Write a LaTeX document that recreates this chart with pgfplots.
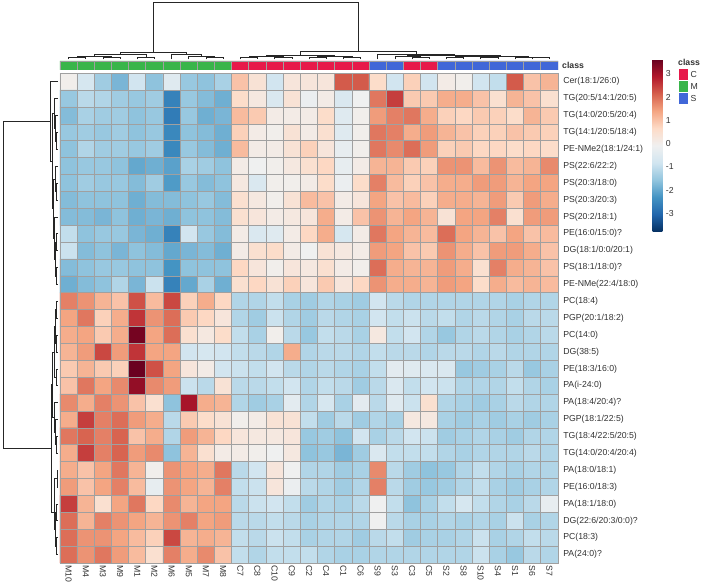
\documentclass[border=0pt]{standalone}
\usepackage{pgfplots}
\pgfplotsset{compat=1.18}
\usepackage{fontspec}
\setmainfont{Liberation Sans}
\definecolor{cC}{RGB}{231,25,74}
\definecolor{cM}{RGB}{57,181,74}
\definecolor{cS}{RGB}{65,103,216}
\definecolor{gridc}{RGB}{160,160,160}
\definecolor{txt}{RGB}{50,50,50}
\newcommand{\lf}{\fontsize{8.7}{10}\selectfont}
\begin{document}
\begin{tikzpicture}
% ---------------- heatmap ----------------
\begin{axis}[name=hm,
 at={(0pt,0pt)}, anchor=south west, scale only axis, width=498pt, height=489.7pt,
 xmin=-0.5, xmax=28.5, ymin=-0.5, ymax=28.5, y dir=reverse,
 colormap={rdbu}{rgb255=(5,48,97) rgb255=(33,102,172) rgb255=(67,147,195) rgb255=(146,197,222) rgb255=(209,229,240) rgb255=(240,240,240) rgb255=(253,219,199) rgb255=(244,165,130) rgb255=(214,96,77) rgb255=(178,24,43) rgb255=(103,0,31)},
 point meta min=-3.8, point meta max=3.63,
 xtick={0,...,28}, ytick={0,...,28},
 xticklabels={M10,M4,M3,M9,M1,M2,M6,M5,M7,M8,C7,C8,C10,C9,C2,C4,C1,C6,S9,S3,C3,C5,S2,S8,S10,S4,S1,S6,S7},
 yticklabels={Cer(18:1/26:0),TG(20:5/14:1/20:5),TG(14:0/20:5/20:4),TG(14:1/20:5/18:4),PE-NMe2(18:1/24:1),PS(22:6/22:2),PS(20:3/18:0),PS(20:3/20:3),PS(20:2/18:1),PE(16:0/15:0)?,DG(18:1/0:0/20:1),PS(18:1/18:0)?,PE-NMe(22:4/18:0),PC(18:4),PGP(20:1/18:2),PC(14:0),DG(38:5),PE(18:3/16:0),PA(i-24:0),PA(18:4/20:4)?,PGP(18:1/22:5),TG(18:4/22:5/20:5),TG(14:0/20:4/20:4),PA(18:0/18:1),PE(16:0/18:3),PA(18:1/18:0),DG(22:6/20:3/0:0)?,PC(18:3),PA(24:0)?},
 yticklabel pos=right,
 major tick length=0pt, minor tick length=0pt,
 minor xtick={0.5,1.5,...,27.5}, minor ytick={0.5,1.5,...,27.5},
 xminorgrids, yminorgrids, minor grid style={gridc, line width=0.8pt},
 axis line style={gridc, line width=0.8pt},
 axis on top,
 xticklabel style={rotate=-90, anchor=west, inner sep=2pt, font=\lf, text=txt},
 yticklabel style={anchor=west, xshift=1.8pt, font=\lf, text=txt},
 colorbar,
 colorbar style={at={(parent axis.north east)}, anchor=north west, xshift=86.2pt, yshift=14pt,
   scale only axis, width=9.6pt, height=172.5pt, y dir=normal,
   axis line style={draw=none}, major tick length=0pt, minor tick length=0pt,
   xtick=\empty, ytick={-3,-2,-1,0,1,2,3}, yticklabels={-3,-2,-1,0,1,2,3},
   minor xtick={}, minor ytick={}, xminorgrids=false, yminorgrids=false,
   yticklabel pos=right,
   yticklabel style={anchor=west, xshift=0pt, font=\lf, text=txt}}
]
\addplot[matrix plot*, mesh/cols=29, point meta=explicit] table[header=false, row sep=\\,
  x expr={\coordindex-29*floor((\coordindex+0.5)/29)}, y expr={floor((\coordindex+0.5)/29)}, meta index=0] {
0\\ -0.7\\ -1.4\\ -1.8\\ -0.8\\ -1.6\\ -0.5\\ -1.5\\ -1.6\\ -1.3\\ 1.0\\ 0.4\\ -0.8\\ 0.3\\ 0.3\\ 0.3\\ 2.2\\ 2.2\\ 0.6\\ -0.8\\ 0.8\\ -0.8\\ 0.1\\ 0.0\\ -0.8\\ -1.0\\ 2.2\\ 1.0\\ 1.2\\
-1.5\\ -1.1\\ -1.2\\ -1.4\\ -1.5\\ -1.4\\ -2.6\\ -1.5\\ -1.7\\ -1.9\\ 0.6\\ 0.2\\ -0.6\\ 0.4\\ -0.2\\ 0.1\\ -0.6\\ -0.1\\ 1.9\\ 2.5\\ 0.9\\ 0.9\\ 1.3\\ 1.3\\ 1.0\\ 0.5\\ 1.2\\ 1.0\\ 0.5\\
-1.7\\ -1.3\\ -1.4\\ -1.4\\ -1.6\\ -1.5\\ -2.7\\ -1.5\\ -1.9\\ -1.8\\ 1.1\\ 0.9\\ 0.1\\ 0.1\\ 0.1\\ 0.6\\ -0.5\\ 0.0\\ 1.5\\ 1.8\\ 1.9\\ 1.3\\ 0.8\\ 0.7\\ 0.9\\ 0.8\\ 0.6\\ 1.2\\ 0.9\\
-1.5\\ -1.4\\ -1.5\\ -1.4\\ -1.6\\ -1.5\\ -2.5\\ -1.6\\ -1.7\\ -1.9\\ 0.8\\ 0.1\\ 0.0\\ 0.4\\ 0.1\\ 0.5\\ -0.5\\ 0.0\\ 1.9\\ 1.8\\ 1.3\\ 1.5\\ 1.2\\ 1.0\\ 0.8\\ 0.8\\ 1.0\\ 0.9\\ 0.8\\
-1.6\\ -1.2\\ -1.4\\ -1.4\\ -1.5\\ -1.4\\ -2.5\\ -1.5\\ -1.7\\ -1.9\\ 1.1\\ 0.1\\ 0.1\\ 0.4\\ 0.8\\ 0.3\\ -0.3\\ 0.0\\ 1.9\\ 1.7\\ 2.0\\ 1.5\\ 0.8\\ 0.9\\ 0.7\\ 0.7\\ 0.6\\ 0.7\\ 0.6\\
-1.6\\ -1.5\\ -1.5\\ -1.6\\ -2.0\\ -1.9\\ -2.1\\ -1.3\\ -1.4\\ -1.6\\ 0.1\\ -0.1\\ 0.0\\ 0.2\\ 0.5\\ 0.7\\ -0.3\\ 0.1\\ 1.2\\ 1.2\\ 0.9\\ 0.8\\ 1.6\\ 1.6\\ 1.1\\ 1.6\\ 1.1\\ 1.2\\ 1.7\\
-1.6\\ -1.4\\ -1.5\\ -1.5\\ -1.7\\ -1.4\\ -2.2\\ -1.5\\ -1.7\\ -1.6\\ 0.2\\ -0.6\\ 0.0\\ 0.0\\ 0.1\\ 0.6\\ -0.2\\ 0.6\\ 1.8\\ 1.1\\ 0.8\\ 1.0\\ 1.3\\ 1.3\\ 1.5\\ 1.5\\ 1.2\\ 1.4\\ 1.4\\
-1.7\\ -1.6\\ -1.6\\ -1.6\\ -1.9\\ -1.7\\ -1.7\\ -1.6\\ -1.5\\ -1.7\\ 0.5\\ 0.2\\ 0.0\\ 0.4\\ 1.1\\ 1.0\\ 0.1\\ 0.3\\ 1.4\\ 1.0\\ 1.1\\ 0.8\\ 1.3\\ 1.3\\ 1.2\\ 1.5\\ 0.9\\ 1.5\\ 1.3\\
-1.7\\ -1.7\\ -1.8\\ -1.6\\ -1.9\\ -1.8\\ -1.9\\ -1.6\\ -1.6\\ -1.7\\ 0.5\\ 0.3\\ 0.1\\ 0.2\\ 0.3\\ 1.3\\ 0.1\\ 1.0\\ 1.6\\ 1.2\\ 1.4\\ 1.2\\ 0.4\\ 1.4\\ 1.4\\ 1.8\\ 0.5\\ 1.5\\ 1.5\\
-1.0\\ -1.6\\ -1.5\\ -1.5\\ -1.8\\ -1.9\\ -2.6\\ -0.8\\ -1.5\\ -1.7\\ 0.1\\ -0.6\\ -0.5\\ 0.1\\ 0.7\\ 1.3\\ -0.7\\ 0.1\\ 1.9\\ 1.4\\ 1.2\\ 1.1\\ 2.0\\ 1.4\\ 1.2\\ 1.0\\ 1.4\\ 1.0\\ 1.1\\
-0.9\\ -1.7\\ -1.6\\ -1.8\\ -1.6\\ -1.7\\ -2.0\\ -1.8\\ -1.7\\ -1.9\\ 0.1\\ 0.5\\ 0.6\\ 0.1\\ -0.1\\ 0.4\\ 0.2\\ 0.1\\ 1.5\\ 1.4\\ 1.0\\ 0.9\\ 1.6\\ 1.3\\ 1.0\\ 1.5\\ 1.5\\ 1.3\\ 1.0\\
-1.7\\ -1.6\\ -1.5\\ -1.5\\ -1.6\\ -1.6\\ -2.3\\ -1.6\\ -1.6\\ -1.6\\ 0.7\\ 0.3\\ 0.0\\ 0.3\\ 0.2\\ 0.5\\ 0.1\\ 0.0\\ 2.0\\ 1.3\\ 1.2\\ 1.2\\ 1.5\\ 1.3\\ 0.5\\ 1.8\\ 1.3\\ 1.2\\ 1.0\\
-1.9\\ -1.7\\ -1.6\\ -1.2\\ -1.8\\ -0.9\\ -2.6\\ -2.0\\ -1.3\\ -1.9\\ 0.5\\ 0.7\\ 0.4\\ 0.8\\ 0.3\\ 0.9\\ 0.3\\ 0.7\\ 1.6\\ 1.3\\ 1.3\\ 1.2\\ 1.5\\ 1.4\\ 0.6\\ 1.3\\ 1.1\\ 1.2\\ 1.1\\
1.8\\ 1.6\\ 1.2\\ 1.0\\ 2.3\\ 1.1\\ 2.4\\ 0.8\\ 1.3\\ 0.7\\ -1.2\\ -1.2\\ -1.0\\ -1.3\\ -1.4\\ -1.2\\ -1.3\\ -1.4\\ -0.8\\ -1.1\\ -1.2\\ -1.2\\ -1.2\\ -1.2\\ -1.2\\ -1.2\\ -1.3\\ -1.2\\ -1.2\\
1.4\\ 1.9\\ 0.8\\ 1.3\\ 2.6\\ 1.6\\ 2.0\\ 0.9\\ 0.7\\ 0.3\\ -1.2\\ -1.4\\ -0.9\\ -1.2\\ -1.4\\ -1.1\\ -1.2\\ -1.3\\ -0.8\\ -1.0\\ -0.9\\ -1.1\\ -1.0\\ -1.2\\ -1.1\\ -1.2\\ -1.3\\ -1.1\\ -1.1\\
1.3\\ 1.4\\ 0.9\\ 1.3\\ 3.5\\ 1.4\\ 2.0\\ 0.5\\ 0.2\\ 0.6\\ -1.0\\ -1.3\\ 0.0\\ -1.1\\ -1.5\\ -1.0\\ -1.1\\ -1.3\\ 0.2\\ -1.0\\ -0.8\\ -1.2\\ -1.5\\ -1.2\\ -1.1\\ -1.2\\ -1.3\\ -1.2\\ -1.1\\
1.2\\ 1.5\\ 2.4\\ 1.5\\ 2.6\\ 1.4\\ 1.4\\ -0.8\\ -0.7\\ -0.8\\ -1.0\\ -1.1\\ -1.2\\ 1.3\\ -1.2\\ -1.1\\ -1.1\\ -1.2\\ -1.0\\ -1.1\\ -1.1\\ -1.2\\ -1.1\\ -1.1\\ -1.2\\ -1.1\\ -1.2\\ -1.2\\ -1.2\\
0.9\\ 1.2\\ 0.9\\ 0.8\\ 3.6\\ 2.3\\ 1.4\\ 0.3\\ 0.1\\ -0.8\\ -0.9\\ -1.0\\ -0.8\\ -1.1\\ -1.2\\ -1.1\\ -1.2\\ -1.3\\ -1.0\\ -0.4\\ -0.5\\ -0.6\\ -0.6\\ -1.5\\ -1.4\\ -1.3\\ -1.1\\ -1.5\\ -1.3\\
1.0\\ 1.9\\ 1.4\\ 1.7\\ 3.2\\ 1.7\\ 1.5\\ -0.9\\ -1.1\\ 0.4\\ -1.1\\ -1.1\\ -1.0\\ -0.8\\ -1.2\\ -1.0\\ -1.1\\ -1.4\\ -1.1\\ -0.6\\ -1.0\\ -0.8\\ -0.9\\ -1.2\\ -1.2\\ -1.2\\ -1.0\\ -1.2\\ -1.3\\
1.7\\ 1.3\\ 1.8\\ 1.6\\ 1.0\\ 0.5\\ -1.6\\ 3.0\\ 1.3\\ 1.2\\ -1.2\\ -1.4\\ -1.3\\ -0.4\\ -1.2\\ -0.7\\ -1.3\\ -0.4\\ -1.1\\ -0.5\\ -0.9\\ 0.5\\ -1.2\\ -1.3\\ -1.4\\ -1.3\\ -1.1\\ -1.2\\ -1.2\\
1.3\\ 2.5\\ 1.8\\ 2.0\\ 1.5\\ 1.3\\ -1.1\\ 0.9\\ 0.6\\ 0.4\\ 0.0\\ 0.1\\ 0.4\\ 0.4\\ -1.0\\ -1.4\\ -1.1\\ -1.4\\ -1.2\\ -1.3\\ 0.2\\ 0.2\\ -1.3\\ -1.4\\ -1.3\\ -1.4\\ -1.3\\ -1.4\\ -1.3\\
1.9\\ 2.1\\ 1.8\\ 2.1\\ 1.0\\ 1.3\\ -1.2\\ 1.5\\ 1.2\\ 0.7\\ 0.3\\ 0.2\\ 0.2\\ 0.3\\ -1.5\\ -1.4\\ -1.6\\ -0.8\\ -1.3\\ -1.1\\ -0.8\\ -0.9\\ -1.4\\ -1.3\\ -1.2\\ -1.3\\ -1.4\\ -1.2\\ -1.2\\
1.3\\ 2.5\\ 1.8\\ 2.1\\ 1.5\\ 1.7\\ -1.6\\ 1.2\\ 0.5\\ 0.1\\ 0.1\\ 0.0\\ -0.1\\ 0.2\\ -1.6\\ -1.5\\ -1.8\\ -1.4\\ -0.6\\ -1.0\\ -1.0\\ -1.0\\ -1.2\\ -1.3\\ -1.2\\ -1.2\\ -1.2\\ -1.1\\ -1.2\\
1.3\\ 1.0\\ 1.4\\ 1.9\\ 1.2\\ 0.0\\ 1.6\\ 1.4\\ 1.3\\ 1.9\\ -1.1\\ -0.8\\ 0.3\\ -0.1\\ -1.2\\ -1.2\\ -1.4\\ -1.3\\ 1.7\\ -1.1\\ -1.4\\ -1.6\\ -1.5\\ -1.2\\ -1.0\\ -1.2\\ -1.3\\ -1.2\\ -1.2\\
1.5\\ 1.0\\ 1.4\\ 1.8\\ 1.1\\ -0.3\\ 1.6\\ 1.4\\ 1.2\\ 1.8\\ -1.0\\ -0.9\\ 0.3\\ -0.2\\ -1.1\\ -1.2\\ -1.4\\ -1.2\\ 1.8\\ -1.1\\ -1.4\\ -1.5\\ -1.4\\ -1.2\\ -1.0\\ -1.3\\ -1.4\\ -1.3\\ -1.2\\
2.5\\ 1.2\\ 0.5\\ 1.4\\ 1.9\\ 0.7\\ 1.7\\ 1.2\\ 1.4\\ 1.4\\ -1.1\\ -0.9\\ -0.8\\ -1.0\\ -1.4\\ -1.2\\ -1.3\\ -1.1\\ -0.1\\ -1.0\\ -1.6\\ -1.3\\ -1.0\\ -0.7\\ -1.0\\ -1.2\\ -1.3\\ -1.1\\ -0.3\\
2.0\\ 1.2\\ 1.8\\ 1.6\\ 1.4\\ 1.2\\ 1.6\\ 1.8\\ 1.4\\ 1.5\\ -1.1\\ -1.1\\ -1.0\\ -1.1\\ -1.3\\ -1.2\\ -1.2\\ -1.2\\ -0.1\\ -1.1\\ -1.3\\ -1.3\\ -1.2\\ -1.3\\ -1.2\\ -1.3\\ -0.9\\ -1.3\\ -1.2\\
2.0\\ 1.6\\ 1.6\\ 1.4\\ 1.1\\ 0.8\\ 2.4\\ 1.2\\ 1.3\\ 1.2\\ -1.0\\ -1.1\\ -0.9\\ -1.0\\ -1.3\\ -1.2\\ -1.2\\ -1.4\\ -1.1\\ -1.0\\ -1.4\\ -1.3\\ -1.3\\ -1.2\\ -0.9\\ -1.3\\ -1.2\\ -1.0\\ -1.1\\
2.0\\ 1.6\\ 1.9\\ 1.5\\ 1.1\\ 0.5\\ 1.8\\ 1.3\\ 1.7\\ 1.0\\ -1.0\\ -1.2\\ -1.0\\ -1.0\\ -1.0\\ -1.2\\ -1.3\\ -1.3\\ -1.2\\ -1.2\\ -1.2\\ -1.2\\ -1.2\\ -1.2\\ -0.9\\ -1.3\\ -1.5\\ -1.1\\ -1.2\\
};
\end{axis}
% ---------------- class annotation bar ----------------
\begin{axis}[at={(0pt,493pt)}, anchor=south west, scale only axis, width=498pt, height=9pt,
 xmin=-0.5, xmax=28.5, ymin=0, ymax=1, hide axis]
\addplot[ybar, bar width=1, bar shift=0pt, fill=cM, draw=gridc, line width=0.8pt] coordinates {(0,1)(1,1)(2,1)(3,1)(4,1)(5,1)(6,1)(7,1)(8,1)(9,1)};
\addplot[ybar, bar width=1, bar shift=0pt, fill=cC, draw=gridc, line width=0.8pt] coordinates {(10,1)(11,1)(12,1)(13,1)(14,1)(15,1)(16,1)(17,1)(20,1)(21,1)};
\addplot[ybar, bar width=1, bar shift=0pt, fill=cS, draw=gridc, line width=0.8pt] coordinates {(18,1)(19,1)(22,1)(23,1)(24,1)(25,1)(26,1)(27,1)(28,1)};
\end{axis}
\node[anchor=west, font=\bfseries\lf, text=txt, inner sep=0pt] at (502pt,497.5pt) {class};
% ---------------- column dendrogram ----------------
\begin{axis}[at={(0pt,503pt)}, anchor=south west, scale only axis, width=498pt, height=60pt,
 xmin=-0.5, xmax=28.5, ymin=0, ymax=60, y dir=reverse, hide axis, unbounded coords=jump, clip=false]
\addplot[black!85, line width=0.6pt, mark=none] coordinates {
(0,59.5)(0,57.3)(1,57.3)(1,59.5) (nan,nan)
(2,59.5)(2,57.5)(3,57.5)(3,59.5) (nan,nan)
(0.5,57.3)(0.5,56)(2.5,56)(2.5,57.5) (nan,nan)
(4,59.5)(4,57)(5,57)(5,59.5) (nan,nan)
(1.5,56)(1.5,54.5)(4.5,54.5)(4.5,57) (nan,nan)
(8,59.5)(8,57)(9,57)(9,59.5) (nan,nan)
(7,59.5)(7,56)(8.5,56)(8.5,57) (nan,nan)
(6,59.5)(6,54)(7.75,54)(7.75,56) (nan,nan)
(3,54.5)(3,52)(6.875,52)(6.875,54) (nan,nan)
(10,59.5)(10,57.5)(11,57.5)(11,59.5) (nan,nan)
(12,59.5)(12,57.5)(13,57.5)(13,59.5) (nan,nan)
(10.5,57.5)(10.5,56)(12.5,56)(12.5,57.5) (nan,nan)
(14,59.5)(14,57.5)(15,57.5)(15,59.5) (nan,nan)
(16,59.5)(16,57)(17,57)(17,59.5) (nan,nan)
(14.5,57.5)(14.5,56)(16.5,56)(16.5,57) (nan,nan)
(11.5,56)(11.5,55)(15.5,55)(15.5,56) (nan,nan)
(20,59.5)(20,57.5)(21,57.5)(21,59.5) (nan,nan)
(19,59.5)(19,56.5)(20.5,56.5)(20.5,57.5) (nan,nan)
(22,59.5)(22,57.5)(23,57.5)(23,59.5) (nan,nan)
(24,59.5)(24,57.5)(25,57.5)(25,59.5) (nan,nan)
(22.5,57.5)(22.5,56.8)(24.5,56.8)(24.5,57.5) (nan,nan)
(27,59.5)(27,57.5)(28,57.5)(28,59.5) (nan,nan)
(26,59.5)(26,57)(27.5,57)(27.5,57.5) (nan,nan)
(23.5,56.8)(23.5,56)(26.75,56)(26.75,57) (nan,nan)
(19.75,56.5)(19.75,55)(25.125,55)(25.125,56) (nan,nan)
(18,59.5)(18,54)(22.44,54)(22.44,55) (nan,nan)
(13.5,55)(13.5,51)(20.22,51)(20.22,54) (nan,nan)
(4.94,52)(4.94,2)(16.86,2)(16.86,51)
};
\end{axis}
% ---------------- row dendrogram ----------------
\begin{axis}[at={(-60pt,0pt)}, anchor=south west, scale only axis, width=58pt, height=489.7pt,
 xmin=0, xmax=58, ymin=-0.5, ymax=28.5, y dir=reverse, hide axis, unbounded coords=jump, clip=false]
\addplot[black!85, line width=0.6pt, mark=none] coordinates {
(58,3)(56,3)(56,4)(58,4) (nan,nan)
(58,2)(55,2)(55,3.5)(56,3.5) (nan,nan)
(58,1)(54,1)(54,2.75)(55,2.75) (nan,nan)
(58,6)(56.5,6)(56.5,7)(58,7) (nan,nan)
(58,5)(55.5,5)(55.5,6.5)(56.5,6.5) (nan,nan)
(58,9)(56,9)(56,10)(58,10) (nan,nan)
(58,11)(56,11)(56,12)(58,12) (nan,nan)
(56,9.5)(55,9.5)(55,11.5)(56,11.5) (nan,nan)
(58,8)(54.5,8)(54.5,10.5)(55,10.5) (nan,nan)
(55.5,5.75)(53.5,5.75)(53.5,9.25)(54.5,9.25) (nan,nan)
(54,1.875)(52,1.875)(52,7.5)(53.5,7.5) (nan,nan)
(58,0)(50,0)(50,4.69)(52,4.69) (nan,nan)
(58,13)(56,13)(56,14)(58,14) (nan,nan)
(58,15)(56.5,15)(56.5,16)(58,16) (nan,nan)
(56,13.5)(55,13.5)(55,15.5)(56.5,15.5) (nan,nan)
(58,17)(56,17)(56,18)(58,18) (nan,nan)
(55,14.5)(54,14.5)(54,17.5)(56,17.5) (nan,nan)
(58,21)(56.5,21)(56.5,22)(58,22) (nan,nan)
(58,20)(55.5,20)(55.5,21.5)(56.5,21.5) (nan,nan)
(58,19)(54.5,19)(54.5,20.75)(55.5,20.75) (nan,nan)
(54,16)(52.5,16)(52.5,19.875)(54.5,19.875) (nan,nan)
(58,23)(57,23)(57,24)(58,24) (nan,nan)
(58,25)(56.5,25)(56.5,26)(58,26) (nan,nan)
(58,27)(56.5,27)(56.5,28)(58,28) (nan,nan)
(56.5,25.5)(55.5,25.5)(55.5,27.5)(56.5,27.5) (nan,nan)
(57,23.5)(54.5,23.5)(54.5,26.5)(55.5,26.5) (nan,nan)
(52.5,17.94)(51,17.94)(51,25.5)(54.5,25.5) (nan,nan)
(50,2.35)(3,2.35)(3,21.72)(51,21.72)
};
\end{axis}
% ---------------- class legend ----------------
\node[anchor=west, font=\bfseries\lf, text=txt, inner sep=0pt] at (618pt,501pt) {class};
\fill[cC] (619pt,483pt) rectangle (628pt,494pt);
\fill[cM] (619pt,471pt) rectangle (628pt,482pt);
\fill[cS] (619pt,459pt) rectangle (628pt,470pt);
\node[anchor=west, font=\lf, text=txt, inner sep=0pt] at (630.5pt,488.5pt) {C};
\node[anchor=west, font=\lf, text=txt, inner sep=0pt] at (630.5pt,476.5pt) {M};
\node[anchor=west, font=\lf, text=txt, inner sep=0pt] at (630.5pt,464.5pt) {S};
\pgfresetboundingbox
\path (-60pt,-22pt) rectangle (642pt,563pt);
\end{tikzpicture}
\end{document}
